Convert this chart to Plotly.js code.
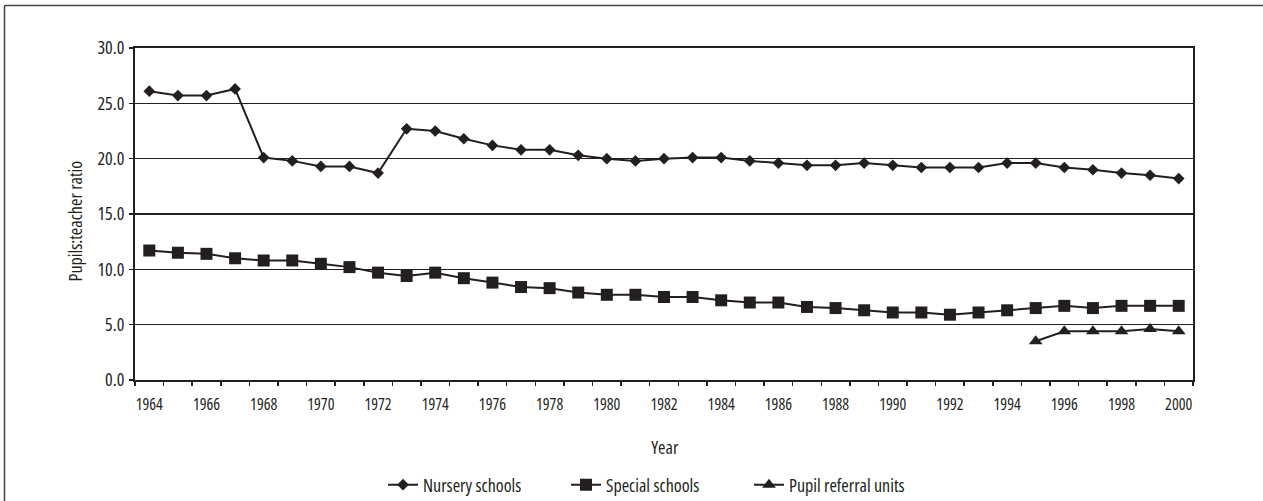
<!DOCTYPE html>
<html>
<head>
<meta charset="utf-8">
<script src="https://cdn.plot.ly/plotly-3.0.1.min.js"></script>
<style>
  html, body { margin: 0; padding: 0; background: #fff; }
  #chart { width: 1263px; height: 501px; }
  #chart svg text { font-stretch: 75% !important; }
</style>
</head>
<body>
<div id="chart"></div>
<script>
const years = [];
for (let y = 1964; y <= 2000; y++) years.push(y);

const nurserySchools = [26.1, 25.7, 25.7, 26.3, 20.1, 19.8, 19.3, 19.3, 18.7, 22.7,
  22.5, 21.8, 21.2, 20.8, 20.8, 20.3, 20.0, 19.8, 20.0, 20.1,
  20.1, 19.8, 19.6, 19.4, 19.4, 19.6, 19.4, 19.2, 19.2, 19.2,
  19.6, 19.6, 19.2, 19.0, 18.7, 18.5, 18.2];

const specialSchools = [11.7, 11.5, 11.4, 11.0, 10.8, 10.8, 10.5, 10.2, 9.7, 9.4,
  9.7, 9.2, 8.8, 8.4, 8.3, 7.9, 7.7, 7.7, 7.5, 7.5,
  7.2, 7.0, 7.0, 6.6, 6.5, 6.3, 6.1, 6.1, 5.9, 6.1,
  6.3, 6.5, 6.7, 6.5, 6.7, 6.7, 6.7];

const pruYears = [1995, 1996, 1997, 1998, 1999, 2000];
const pupilReferralUnits = [3.5, 4.4, 4.4, 4.4, 4.6, 4.4];

const tickLabels = ['1964','1966','1968','1970','1972','1974','1976','1978','1980','1982',
  '1984','1986','1988','1990','1992','1994','1996','1998','2000'];
const tickYears = tickLabels.map(Number);

const ink = '#231f20';
const FONT = '"Open Sans", "Roboto Condensed", "Liberation Sans", sans-serif';

const traces = [
  { x: years, y: nurserySchools, name: 'Nursery schools', type: 'scatter', mode: 'lines+markers',
    line: { color: ink, width: 2 }, marker: { symbol: 'diamond', size: 9, color: ink } },
  { x: years, y: specialSchools, name: 'Special schools', type: 'scatter', mode: 'lines+markers',
    line: { color: ink, width: 2 }, marker: { symbol: 'square', size: 12, color: ink } },
  { x: pruYears, y: pupilReferralUnits, name: 'Pupil referral units', type: 'scatter', mode: 'lines+markers',
    line: { color: ink, width: 2 }, marker: { symbol: 'triangle-up', size: 12, color: ink } }
];

const L = 135, R = 1193, T = 48, B = 380;
const px = v => (v - L) / (R - L);
const py = v => (B - v) / (B - T);

const layout = {
  width: 1263, height: 501,
  margin: { l: L, r: 1263 - R, t: T, b: 501 - B, pad: 0, autoexpand: false },
  paper_bgcolor: '#fff', plot_bgcolor: '#fff',
  font: { family: FONT, color: ink, size: 16, weight: 500 },
  showlegend: true,
  legend: { orientation: 'h', x: px(383), xanchor: 'left', y: py(485), yanchor: 'middle',
    font: { family: FONT, size: 18, color: ink, weight: 500 }, entrywidth: 138, entrywidthmode: 'pixels',
    itemwidth: 30, tracegroupgap: 0, borderwidth: 0 },
  xaxis: {
    type: 'linear', range: [1963.5, 2000.5],
    tickmode: 'array', tickvals: tickYears, ticktext: tickLabels,
    ticks: '', showgrid: false, zeroline: false,
    showline: true, linecolor: ink, linewidth: 2, mirror: true,
    tickfont: { family: FONT, size: 16, color: ink, weight: 500 },
    ticklabelstandoff: 9,
    minor: { tickmode: 'linear', tick0: 1963.5, dtick: 1, ticks: 'outside', ticklen: 4, tickwidth: 1.5, tickcolor: ink, showgrid: false }
  },
  yaxis: {
    range: [0, 30], tickmode: 'linear', tick0: 0, dtick: 5, tickformat: '.1f',
    ticks: 'outside', ticklen: 4, tickwidth: 1.5, tickcolor: ink,
    showgrid: true, gridcolor: ink, gridwidth: 1.5, zeroline: false,
    showline: true, linecolor: ink, linewidth: 2, mirror: true,
    tickfont: { family: FONT, size: 18, color: ink, weight: 500 },
    ticklabelstandoff: 1
  },
  annotations: [
    { text: 'Year', xref: 'paper', yref: 'paper', x: px(665), y: py(447), xanchor: 'center', yanchor: 'middle',
      showarrow: false, font: { family: FONT, size: 18, color: ink, weight: 500 } },
    { text: 'Pupils:teacher ratio', xref: 'paper', yref: 'paper', x: px(74.5), y: py(221), xanchor: 'center', yanchor: 'middle',
      textangle: -90, showarrow: false, font: { family: FONT, size: 18, color: ink, weight: 500 } }
  ],
  shapes: [
    { type: 'line', xref: 'paper', yref: 'paper', x0: px(4.5), x1: px(1263), y0: py(5.5), y1: py(5.5),
      line: { color: '#444', width: 1.5 } },
    { type: 'line', xref: 'paper', yref: 'paper', x0: px(4.5), x1: px(4.5), y0: py(5.5), y1: py(501),
      line: { color: '#444', width: 1.5 } }
  ]
};

Plotly.newPlot('chart', traces, layout, { displayModeBar: false, staticPlot: true });
</script>
</body>
</html>
